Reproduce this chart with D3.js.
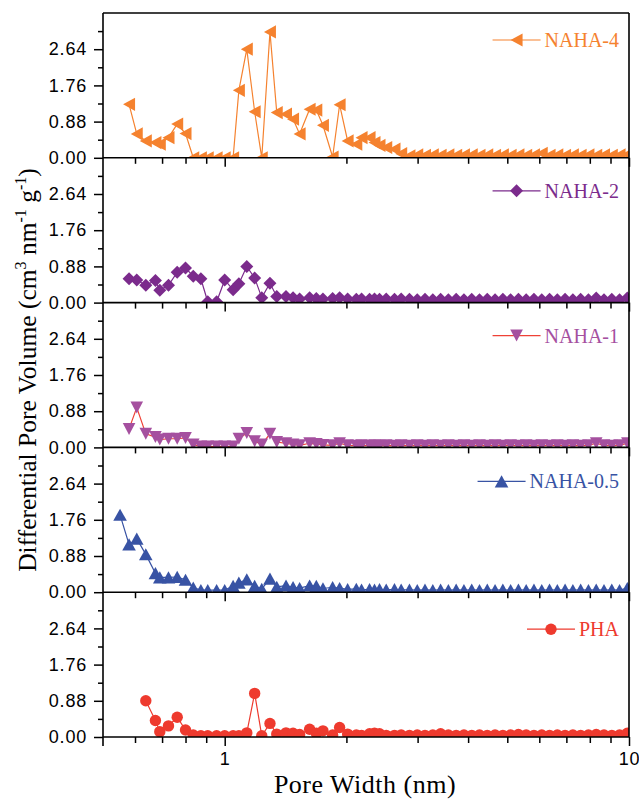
<!DOCTYPE html>
<html><head><meta charset="utf-8">
<script src="https://cdn.jsdelivr.net/npm/d3@7"></script>
<style>body{margin:0;background:#fff}</style>
</head><body>
<svg id="c" width="639" height="799"></svg>
<script>
// ---------------- data ----------------
const poreWidth = [0.551,0.580,0.606,0.638,0.674,0.691,0.726,0.763,0.800,0.836,0.873,0.908,0.955,1.000,1.049,1.084,1.134,1.186,1.235,1.294,1.345,1.418,1.476,1.532,1.622,1.685,1.750,1.849,1.924,2.014,2.116,2.180,2.282,2.347,2.415,2.509,2.630,2.732,
  2.864,2.994,3.129,3.271,3.420,3.575,3.737,3.906,4.083,4.268,4.461,4.664,4.875,5.096,5.327,5.568,5.820,6.084,6.360,6.648,6.949,7.264,7.593,7.937,8.297,8.673,9.066,9.477,9.906];

const naha4 = [null,1.30,0.58,0.41,0.37,0.33,0.49,0.82,0.59,0,0,0,0,0,0,1.64,2.64,1.12,0,3.06,1.10,1.06,0.94,0.58,1.18,1.16,0.79,0.02,1.29,0.41,0.33,0.49,0.49,0.37,0.30,0.25,0.21,0.10,
  0.05,0.07,0.06,0.07,0.06,0.07,0.06,0.07,0.07,0.06,0.07,0.06,0.07,0.06,0.07,0.06,0.07,0.11,0.06,0.07,0.06,0.07,0.06,0.07,0.06,0.07,0.06,0.07,0.08];

const naha2 = [null,0.58,0.55,0.42,0.54,0.30,0.42,0.74,0.84,0.64,0.58,0.02,0.02,0.55,0.31,0.46,0.88,0.60,0.12,0.47,0.15,0.15,0.12,0.09,0.12,0.10,0.09,0.10,0.12,0.09,0.08,0.09,0.08,0.09,0.08,0.09,0.08,0.09,
  0.08,0.07,0.08,0.07,0.08,0.07,0.08,0.07,0.08,0.07,0.08,0.07,0.08,0.07,0.08,0.07,0.08,0.07,0.08,0.07,0.08,0.07,0.08,0.07,0.11,0.07,0.08,0.07,0.11];

const naha1 = [null,0.45,0.97,0.33,0.25,0.19,0.21,0.21,0.23,0.07,0.02,0.02,0.02,0.02,0.02,0.21,0.35,0.15,0.07,0.33,0.13,0.10,0.07,0.05,0.10,0.08,0.06,0.05,0.10,0.05,0.04,0.05,0.04,0.05,0.04,0.05,0.04,0.05,
  0.04,0.05,0.04,0.05,0.04,0.05,0.04,0.05,0.04,0.05,0.04,0.05,0.04,0.05,0.04,0.05,0.04,0.05,0.04,0.05,0.04,0.05,0.04,0.05,0.10,0.05,0.04,0.05,0.10];

const naha05 = [1.88,1.16,1.30,0.92,0.46,0.36,0.36,0.37,0.30,0.11,0.05,0.05,0.05,0.05,0.15,0.23,0.31,0.15,0.08,0.33,0.13,0.16,0.12,0.10,0.16,0.15,0.09,0.12,0.10,0.07,0.08,0.06,0.07,0.06,0.07,0.06,0.07,0.06,
  0.06,0.05,0.06,0.05,0.06,0.05,0.06,0.05,0.06,0.05,0.06,0.05,0.06,0.05,0.06,0.05,0.06,0.05,0.06,0.05,0.06,0.05,0.06,0.05,0.06,0.05,0.06,0.05,0.10];

const pha = [null,null,null,0.88,0.40,0.13,0.27,0.48,0.17,0.05,0.03,0.03,0.03,0.03,0.03,0.03,0.10,1.06,0.03,0.33,0.07,0.10,0.09,0.06,0.19,0.09,0.15,0.05,0.23,0.07,0.05,0.04,0.08,0.09,0.08,0.04,0.04,0.05,
  0.04,0.05,0.04,0.05,0.08,0.05,0.04,0.05,0.04,0.05,0.04,0.05,0.04,0.05,0.06,0.05,0.04,0.05,0.04,0.05,0.04,0.05,0.04,0.05,0.06,0.05,0.04,0.05,0.09];

const seriesNames = ["NAHA-4","NAHA-2","NAHA-1","NAHA-0.5","PHA"];
const seriesValues = [naha4, naha2, naha1, naha05, pha];
const yTickValues = [0, 0.88, 1.76, 2.64];
const yMinorValues = [0.44, 1.32, 2.20, 3.08];
const xTickValues = [1, 10];
const xMinorValues = [0.6,0.7,0.8,0.9,2,3,4,5,6,7,8,9];
const xTitle = "Pore Width (nm)";

// ---------------- styles ----------------
const markerColor = ["#F5822F","#7B2B8C","#A5509F","#3853A4","#EE3A2E"];
const lineColor   = ["#F5822F","#7B2B8C","#EF4136","#3853A4","#EE3A2E"];
const markerShape = ["triLeft","diamond","triDown","triUp","circle"];
const legendDy = [27, 33, 33, 34, 37];

const W = 639, H = 799;
const L = 103, R = 629, T = 13, B = 737;
const nP = 5, PH = (B - T) / nP;

const svg = d3.select("#c");
const x = d3.scaleLog().domain([0.5, 10]).range([L, R]);

function shapePath(s) {
  switch (s) {
    case "triLeft": return "M-6,0L6,-6.6L6,6.6Z";
    case "diamond": return "M0,-6.5L6.5,0L0,6.5L-6.5,0Z";
    case "triDown": return "M-6.3,-6L6.3,-6L0,6Z";
    case "triUp":   return "M-6.8,6L6.8,6L0,-6.2Z";
    default: return d3.symbol(d3.symbolCircle, Math.PI * 5.7 * 5.7)();
  }
}

const sans = "'Liberation Sans', Arial, sans-serif";
const serif = "'Liberation Serif', 'Times New Roman', serif";

const defs = svg.append("defs");

seriesNames.forEach((name, i) => {
  const y0 = T + i * PH, y1 = y0 + PH;
  const y = d3.scaleLinear().domain([0, 3.52]).range([y1, y0]);
  const g = svg.append("g");

  defs.append("clipPath").attr("id", "clip" + i)
    .append("rect").attr("x", L).attr("y", y0).attr("width", R - L).attr("height", PH);

  const pts = poreWidth.map((w, k) => ({ w, v: seriesValues[i][k] }));
  const plot = g.append("g").attr("clip-path", `url(#clip${i})`);

  const line = d3.line().defined(d => d.v != null).x(d => x(d.w)).y(d => y(d.v));
  plot.append("path").datum(pts).attr("d", line)
    .attr("fill", "none").attr("stroke", lineColor[i]).attr("stroke-width", 1.2);

  plot.selectAll("path.m").data(pts.filter(d => d.v != null)).join("path")
    .attr("class", "m")
    .attr("transform", d => `translate(${x(d.w)},${y(d.v)})`)
    .attr("d", shapePath(markerShape[i]))
    .attr("fill", markerColor[i]);

  // left axis
  const ya = g.append("g").attr("transform", `translate(${L},0)`)
    .call(d3.axisLeft(y).tickValues(yTickValues).tickSize(9).tickPadding(7).tickFormat(d3.format(".2f")));
  ya.select(".domain").remove();
  ya.selectAll("line").attr("stroke-width", 1.5);
  ya.selectAll("text").attr("font-family", sans).attr("font-size", 18).attr("letter-spacing", "0.8px").attr("fill", "#000");
  const ym = g.append("g").attr("transform", `translate(${L},0)`)
    .call(d3.axisLeft(y).tickValues(yMinorValues).tickSize(5).tickFormat(""));
  ym.select(".domain").remove();
  ym.selectAll("line").attr("stroke-width", 1.5);

  // bottom axis
  const xa = g.append("g").attr("transform", `translate(0,${y1})`)
    .call(d3.axisBottom(x).tickValues(xTickValues).tickSize(9).tickPadding(6)
      .tickFormat(i === nP - 1 ? d3.format("d") : () => ""));
  xa.select(".domain").remove();
  xa.selectAll("line").attr("stroke-width", 1.5);
  xa.selectAll("text").attr("font-family", sans).attr("font-size", 18).attr("letter-spacing", "0.8px").attr("fill", "#000");
  const xm = g.append("g").attr("transform", `translate(0,${y1})`)
    .call(d3.axisBottom(x).tickValues(xMinorValues).tickSize(6).tickFormat(""));
  xm.select(".domain").remove();
  xm.selectAll("line").attr("stroke-width", 1.5);

  // bottom line of panel
  g.append("line").attr("x1", L).attr("x2", R).attr("y1", y1).attr("y2", y1)
    .attr("stroke", "#000").attr("stroke-width", 1.6);

  // legend
  const ly = y0 + legendDy[i];
  const tx = 619;
  const lt = g.append("text").attr("x", tx).attr("y", ly).attr("dy", "0.35em")
    .attr("text-anchor", "end").attr("font-family", serif).attr("font-size", 20)
    .attr("fill", markerColor[i]).text(name);
  const tw = lt.node().getComputedTextLength();
  const lx1 = tx - tw - 52, lx2 = tx - tw - 4;
  g.append("line").attr("x1", lx1).attr("x2", lx2).attr("y1", ly).attr("y2", ly)
    .attr("stroke", lineColor[i]).attr("stroke-width", 1.2);
  g.append("path").attr("transform", `translate(${(lx1 + lx2) / 2},${ly})`)
    .attr("d", shapePath(markerShape[i])).attr("fill", markerColor[i]);
});

// frame
svg.append("line").attr("x1", L).attr("x2", R).attr("y1", T).attr("y2", T).attr("stroke", "#000").attr("stroke-width", 1.6);
svg.append("line").attr("x1", L).attr("x2", L).attr("y1", T).attr("y2", B + 9).attr("stroke", "#000").attr("stroke-width", 1.6);
svg.append("line").attr("x1", R).attr("x2", R).attr("y1", T).attr("y2", B).attr("stroke", "#000").attr("stroke-width", 1.6);

// axis titles
svg.append("text").attr("x", 365).attr("y", 793).attr("text-anchor", "middle")
  .attr("font-family", serif).attr("font-size", 26).attr("letter-spacing", "0.5px").text(xTitle);

const yt = svg.append("text").attr("transform", `translate(36,${(T + B) / 2 - 5}) rotate(-90)`)
  .attr("text-anchor", "middle").attr("font-family", serif).attr("font-size", 25.5);
yt.append("tspan").text("Differential Pore Volume (cm");
yt.append("tspan").attr("font-size", 16).attr("dy", -10).text("3");
yt.append("tspan").attr("dy", 10).text(" nm");
yt.append("tspan").attr("font-size", 16).attr("dy", -10).text("-1");
yt.append("tspan").attr("dy", 10).text(" g");
yt.append("tspan").attr("font-size", 16).attr("dy", -10).text("-1");
yt.append("tspan").attr("dy", 10).text(")");
</script>
</body></html>
